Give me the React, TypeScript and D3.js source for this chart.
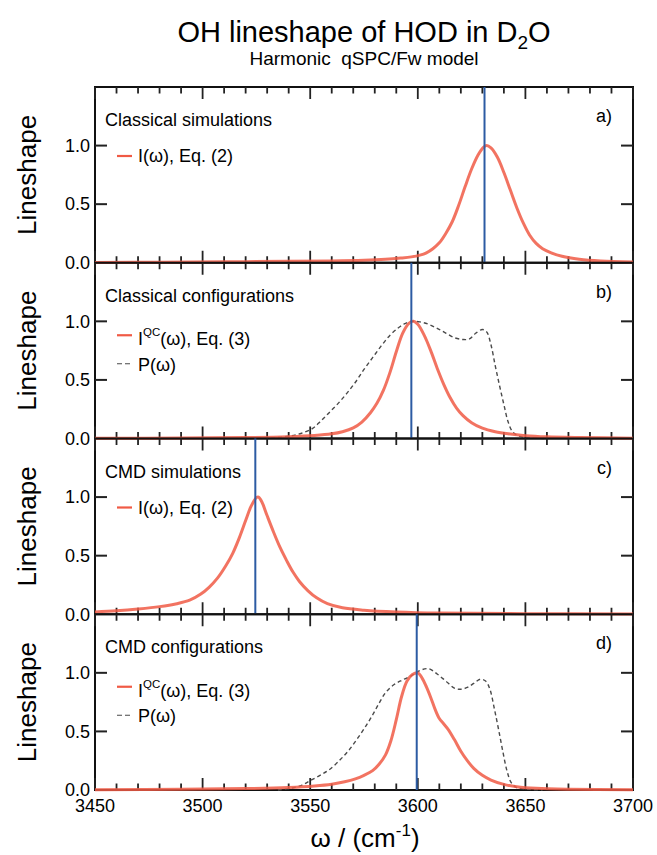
import React from "react";
import * as d3 from "d3";

// ---------- data ----------
const xTickLabels = [3450, 3500, 3550, 3600, 3650, 3700];
const yTickLabels = [0.0, 0.5, 1.0];
const panelTitles = ["Classical simulations", "Classical configurations", "CMD simulations", "CMD configurations"];
const panelLetters = ["a)", "b)", "c)", "d)"];
const peakPositions = [3631, 3597, 3524.5, 3599.5];

// a) classical simulations, I(w)
const omegaA = [3450, 3480, 3510, 3540, 3560, 3575, 3585, 3592, 3597, 3601, 3604, 3607, 3610, 3613, 3616, 3619, 3622, 3625, 3628, 3630.5, 3632, 3634, 3637, 3640, 3643, 3646, 3649, 3652, 3655, 3658, 3662, 3667, 3675, 3685, 3700];
const lineA = [0.003, 0.005, 0.008, 0.012, 0.016, 0.022, 0.03, 0.04, 0.05, 0.065, 0.085, 0.12, 0.17, 0.25, 0.35, 0.49, 0.65, 0.8, 0.92, 0.985, 1.0, 0.98, 0.9, 0.77, 0.62, 0.47, 0.34, 0.235, 0.165, 0.12, 0.085, 0.055, 0.03, 0.015, 0.006];

// b) classical configurations, I^QC(w) and P(w)
const omegaB = [3450, 3490, 3520, 3540, 3552, 3560, 3565, 3570, 3574, 3578, 3581, 3584, 3587, 3590, 3593, 3596, 3598, 3600, 3603, 3606, 3609, 3612, 3615, 3618, 3621, 3625, 3630, 3636, 3642, 3650, 3660, 3675, 3700];
const lineB = [0.002, 0.004, 0.008, 0.016, 0.026, 0.04, 0.058, 0.09, 0.14, 0.22, 0.3, 0.41, 0.56, 0.74, 0.9, 0.985, 1.0, 0.975, 0.88, 0.75, 0.6, 0.465, 0.35, 0.26, 0.195, 0.135, 0.088, 0.058, 0.04, 0.024, 0.014, 0.008, 0.003];
const omegaPB = [3522, 3530, 3536, 3541, 3546, 3551, 3555, 3559, 3563, 3567, 3571, 3575, 3579, 3583, 3587, 3591, 3594, 3597, 3601, 3605, 3609, 3613, 3617, 3621, 3624, 3627, 3630, 3632, 3634, 3636, 3638, 3640, 3642, 3644, 3647, 3652, 3660];
const distB = [0.0, 0.004, 0.01, 0.022, 0.045, 0.085, 0.15, 0.225, 0.3, 0.385, 0.48, 0.59, 0.69, 0.79, 0.88, 0.945, 0.98, 1.0, 0.995, 0.975, 0.94, 0.9, 0.86, 0.845, 0.85, 0.9, 0.93, 0.91, 0.8, 0.62, 0.45, 0.29, 0.14, 0.06, 0.02, 0.005, 0.0];

// c) CMD simulations, I(w)
const omegaC = [3450, 3460, 3470, 3480, 3488, 3494, 3499, 3503, 3507, 3511, 3514, 3517, 3520, 3522.5, 3525, 3526, 3527.5, 3530, 3533, 3536, 3539, 3542, 3545, 3549, 3553, 3558, 3565, 3575, 3590, 3610, 3650, 3700];
const lineC = [0.02, 0.03, 0.045, 0.065, 0.09, 0.12, 0.17, 0.23, 0.31, 0.42, 0.52, 0.65, 0.8, 0.92, 0.995, 1.0, 0.96, 0.84, 0.7, 0.57, 0.46, 0.36, 0.28, 0.2, 0.14, 0.09, 0.055, 0.035, 0.02, 0.01, 0.005, 0.002];

// d) CMD configurations, I^QC(w) and P(w)
const omegaD = [3450, 3490, 3520, 3540, 3552, 3560, 3566, 3571, 3575, 3579, 3582, 3585, 3587.5, 3590, 3592.5, 3595, 3597.5, 3600, 3602, 3604, 3606, 3608, 3610, 3612, 3614, 3617, 3620, 3623, 3626, 3630, 3634, 3640, 3646, 3655, 3670, 3700];
const lineD = [0.003, 0.006, 0.012, 0.022, 0.035, 0.05, 0.07, 0.095, 0.125, 0.165, 0.22, 0.3, 0.42, 0.6, 0.8, 0.93, 0.985, 1.0, 0.955, 0.88, 0.79, 0.69, 0.61, 0.565, 0.52, 0.43, 0.33, 0.25, 0.185, 0.125, 0.085, 0.048, 0.028, 0.014, 0.006, 0.002];
const omegaPD = [3535, 3541, 3546, 3550, 3555, 3559, 3564, 3568, 3572, 3576, 3579, 3582, 3585, 3589, 3593, 3597, 3601, 3605, 3609, 3613, 3617, 3620, 3623, 3626, 3629, 3631.5, 3633.5, 3635.5, 3637.5, 3639.5, 3641.5, 3643.5, 3646, 3652, 3658];
const distD = [0.0, 0.015, 0.04, 0.08, 0.13, 0.175, 0.26, 0.34, 0.44, 0.55, 0.64, 0.74, 0.83, 0.9, 0.94, 0.975, 1.02, 1.035, 0.99, 0.93, 0.87, 0.86, 0.875, 0.91, 0.945, 0.93, 0.86, 0.7, 0.52, 0.33, 0.16, 0.06, 0.02, 0.005, 0.0];

// ---------- layout ----------
const W = 657, H = 855;
const left = 95, right = 633, top0 = 87, panelH = 175.75;
const FONT = "'Liberation Sans', Arial, Helvetica, sans-serif";
const RED = "#f05a45";
const BLUE = "#2c5ba3";
const GRAY = "#4a4a4a";

const zip = (xs: number[], ys: number[]) => xs.map((x, i) => [x, ys[i]] as [number, number]);

const panels = [
  { red: zip(omegaA, lineA), dash: null as null | [number, number][], qc: false },
  { red: zip(omegaB, lineB), dash: zip(omegaPB, distB), qc: true },
  { red: zip(omegaC, lineC), dash: null as null | [number, number][], qc: false },
  { red: zip(omegaD, lineD), dash: zip(omegaPD, distD), qc: true },
];

const x = d3.scaleLinear().domain([3450, 3700]).range([left, right]);
const minorTicks = d3.range(3450, 3701, 10);

export default function App() {
  return (
    <svg width={W} height={H} style={{ position: "absolute", left: 0, top: 0, background: "#fff" }} fontFamily={FONT}>
      <rect width={W} height={H} fill="#fff" />
      <text x={364} y={42} fontSize={29} textAnchor="middle">
        OH lineshape of HOD in D<tspan dy={7} fontSize={19}>2</tspan><tspan dy={-7}>O</tspan>
      </text>
      <text x={364} y={65} fontSize={19} textAnchor="middle" style={{ whiteSpace: "pre" }}>
        {"Harmonic  qSPC/Fw model"}
      </text>

      {panels.map((p, i) => {
        const T = top0 + i * panelH;
        const y = d3.scaleLinear().domain([0, 1.5]).range([T + panelH, T]);
        const line = d3
          .line<[number, number]>()
          .x((d) => x(d[0]))
          .y((d) => y(Math.max(0, d[1])))
          .curve(d3.curveCatmullRom.alpha(0.5));
        const two = p.dash !== null;
        const redLegY = two ? T + 72.5 : T + 69;
        const redTextY = two ? T + 82.5 : T + 75;
        return (
          <g key={i}>
            <rect x={left} y={T} width={right - left} height={panelH} fill="none" stroke="#111" strokeWidth={2} />
            {minorTicks.map((t) => {
              const major = t % 50 === 0;
              const len = major ? 12 : 6.5;
              const xx = x(t);
              return (
                <g key={t} stroke="#222" strokeWidth={1.8}>
                  <line x1={xx} x2={xx} y1={T} y2={T + len} />
                  <line x1={xx} x2={xx} y1={T + panelH} y2={T + panelH - len} />
                </g>
              );
            })}
            {[0.5, 1.0].map((v) => (
              <g key={v} stroke="#222" strokeWidth={2}>
                <line x1={left} x2={left + 12} y1={y(v)} y2={y(v)} />
                <line x1={right} x2={right - 12} y1={y(v)} y2={y(v)} />
              </g>
            ))}
            {yTickLabels.map((v) => (
              <text key={v} x={90} y={y(v)} dy={6.3} fontSize={18} textAnchor="end">
                {v.toFixed(1)}
              </text>
            ))}
            <text transform={`translate(36,${T + panelH / 2}) rotate(-90)`} fontSize={26} textAnchor="middle">
              Lineshape
            </text>
            {p.dash && (
              <path d={line(p.dash) || ""} fill="none" stroke={GRAY} strokeWidth={1.4} strokeDasharray="4,3" />
            )}
            <path d={line(p.red) || ""} fill="none" stroke={RED} strokeWidth={3} strokeOpacity={0.85} strokeLinejoin="round" />
            <line x1={x(peakPositions[i])} x2={x(peakPositions[i])} y1={T} y2={T + panelH} stroke={BLUE} strokeWidth={2} />
            <text x={105} y={T + 39} fontSize={18}>{panelTitles[i]}</text>
            <text x={612} y={T + 35} fontSize={18} textAnchor="end">{panelLetters[i]}</text>
            <line x1={117} x2={132} y1={redLegY} y2={redLegY} stroke={RED} strokeWidth={2.2} />
            {p.qc ? (
              <text x={138} y={redTextY} fontSize={18}>
                I<tspan dy={-9} fontSize={11.5}>QC</tspan><tspan dy={9}>(ω), Eq. (3)</tspan>
              </text>
            ) : (
              <text x={138} y={redTextY} fontSize={18}>I(ω), Eq. (2)</text>
            )}
            {two && (
              <>
                <line x1={117} x2={132} y1={T + 101} y2={T + 101} stroke={GRAY} strokeWidth={1.2} strokeDasharray="5,3" />
                <text x={138} y={T + 108} fontSize={18}>P(ω)</text>
              </>
            )}
          </g>
        );
      })}

      {xTickLabels.map((t) => (
        <text key={t} x={x(t)} y={812} fontSize={18} textAnchor="middle">
          {t}
        </text>
      ))}
      <text x={365} y={847} fontSize={26} textAnchor="middle">
        ω / (cm<tspan dy={-11} fontSize={17}>-1</tspan><tspan dy={11}>)</tspan>
      </text>
    </svg>
  );
}
